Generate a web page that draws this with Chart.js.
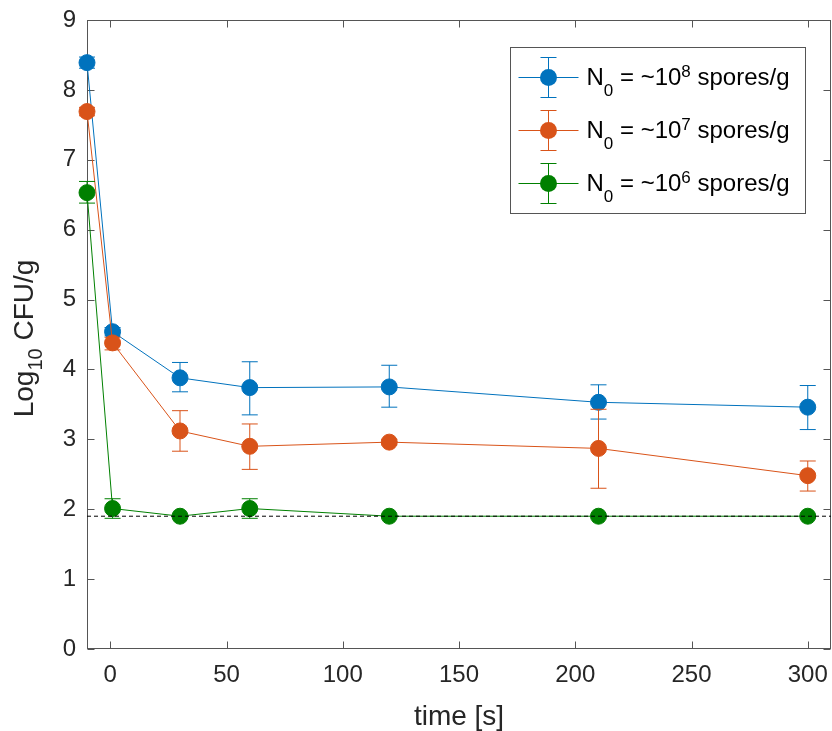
<!DOCTYPE html>
<html>
<head>
<meta charset="utf-8">
<script src="https://cdn.jsdelivr.net/npm/chart.js@4.4.0/dist/chart.umd.min.js"></script>
<style>
  html, body { margin: 0; padding: 0; background: #fff; overflow: hidden; }
  canvas { display: block; }
</style>
</head>
<body>
<canvas id="chart" width="832" height="731"></canvas>
<script>
// sampling times (s)
const timeS = [-10, 1, 30, 60, 120, 210, 300];

// log10 CFU/g per starting load, with upper / lower error limits
const n8Mean = [8.39, 4.54, 3.88, 3.74, 3.75, 3.53, 3.46];
const n8Hi   = [8.47, 4.60, 4.10, 4.11, 4.06, 3.78, 3.77];
const n8Lo   = [8.31, 4.48, 3.68, 3.35, 3.46, 3.29, 3.14];

const n7Mean = [7.69, 4.38, 3.12, 2.90, 2.96, 2.87, 2.48];
const n7Hi   = [7.75, 4.46, 3.41, 3.22, 3.00, 3.43, 2.69];
const n7Lo   = [7.63, 4.28, 2.83, 2.57, 2.92, 2.30, 2.26];

const n6Mean = [6.53, 2.01, 1.90, 2.01, 1.90, 1.90, 1.90];
const n6Hi   = [6.69, 2.15, 1.90, 2.15, 1.90, 1.90, 1.90];
const n6Lo   = [6.38, 1.87, 1.90, 1.87, 1.90, 1.90, 1.90];

// detection limit, drawn across the whole x range
const limitX = [-10, 310];
const limitY = 1.90;

const xTicks = [0, 50, 100, 150, 200, 250, 300];
const yTicks = [0, 1, 2, 3, 4, 5, 6, 7, 8, 9];
const legendExp = ['8', '7', '6'];

const FONT = '"Liberation Sans", Arial, Helvetica, sans-serif';
const AXIS = '#262626';
const BOX = '#555555';

function pts(xs, ys) {
  return xs.map((x, i) => ({ x: x, y: ys[i] }));
}

function series(label, mean, hi, lo, color, order) {
  return {
    label: label,
    data: pts(timeS, mean),
    errHi: hi,
    errLo: lo,
    borderColor: color,
    backgroundColor: color,
    borderWidth: 1,
    pointRadius: 8,
    pointBorderWidth: 1,
    pointBorderColor: color,
    pointBackgroundColor: color,
    showLine: true,
    tension: 0,
    clip: false,
    order: order
  };
}

// draws rich text (sub/superscripts) left to right from x on baseline y
function drawRich(ctx, parts, x, y, size) {
  parts.forEach(p => {
    const small = p.sub || p.sup;
    const s = small ? Math.round(size * 0.7) : size;
    ctx.font = s + 'px ' + FONT;
    const dy = p.sub ? p.sub : (p.sup ? -p.sup : 0);
    ctx.fillText(p.t, x, y + dy);
    x += ctx.measureText(p.t).width;
  });
  return x;
}

function richWidth(ctx, parts, size) {
  let w = 0;
  parts.forEach(p => {
    const s = (p.sub || p.sup) ? Math.round(size * 0.7) : size;
    ctx.font = s + 'px ' + FONT;
    w += ctx.measureText(p.t).width;
  });
  return w;
}

const CAP = 8;

function drawErrorBar(ctx, px, top, bot, cap) {
  ctx.beginPath();
  ctx.moveTo(px, top); ctx.lineTo(px, bot);
  ctx.moveTo(px - cap, top); ctx.lineTo(px + cap, top);
  ctx.moveTo(px - cap, bot); ctx.lineTo(px + cap, bot);
  ctx.stroke();
}

const errorBars = {
  id: 'errorBars',
  beforeDatasetDraw(chart, args) {
    const ds = chart.data.datasets[args.index];
    if (!ds.errHi) return;
    const { ctx, scales: { x, y } } = chart;
    ctx.save();
    ctx.strokeStyle = ds.borderColor;
    ctx.lineWidth = 1;
    ds.data.forEach((p, i) => {
      const px = x.getPixelForValue(p.x);
      drawErrorBar(ctx, px, y.getPixelForValue(ds.errHi[i]), y.getPixelForValue(ds.errLo[i]), CAP);
    });
    ctx.restore();
  }
};

// box around the axes with inward ticks on all four sides, x tick labels, y title
const axesBox = {
  id: 'axesBox',
  beforeDatasetsDraw(chart) {
    const { ctx, chartArea: a, scales: { x, y } } = chart;
    const L = Math.round(a.left) + 0.5, R = Math.round(a.right) - 0.5;
    const T = Math.round(a.top) + 0.5, B = Math.round(a.bottom) - 0.5;
    const tl = 7;
    ctx.save();
    ctx.strokeStyle = BOX;
    ctx.lineWidth = 1;
    ctx.strokeRect(L, T, R - L, B - T);
    ctx.beginPath();
    xTicks.forEach(v => {
      const px = Math.round(x.getPixelForValue(v)) + 0.5;
      ctx.moveTo(px, B); ctx.lineTo(px, B - tl);
      ctx.moveTo(px, T); ctx.lineTo(px, T + tl);
    });
    yTicks.forEach(v => {
      const py = Math.round(y.getPixelForValue(v)) + 0.5;
      ctx.moveTo(L, py); ctx.lineTo(L + tl, py);
      ctx.moveTo(R, py); ctx.lineTo(R - tl, py);
    });
    ctx.stroke();

    // x tick labels (drawn here so the last label may sit past the box edge)
    ctx.fillStyle = AXIS;
    ctx.font = '24px ' + FONT;
    ctx.textAlign = 'center';
    ctx.textBaseline = 'middle';
    xTicks.forEach(v => {
      ctx.fillText(String(v), x.getPixelForValue(v), a.bottom + 26);
    });

    // y title: Log10 CFU/g
    const parts = [{ t: 'Log' }, { t: '10', sub: 9 }, { t: ' CFU/g' }];
    const size = 28;
    const w = richWidth(ctx, parts, size);
    ctx.translate(33, (a.top + a.bottom) / 2 + 4);
    ctx.rotate(-Math.PI / 2);
    ctx.textBaseline = 'alphabetic';
    ctx.textAlign = 'left';
    drawRich(ctx, parts, -w / 2, 0, size);
    ctx.restore();
  }
};

const legendBox = {
  id: 'legendBox',
  afterDraw(chart) {
    const { ctx, chartArea: a } = chart;
    const w = 295, h = 166;
    const bx = Math.round(a.right - 26 - w) + 0.5;
    const by = Math.round(a.top + 27) + 0.5;
    ctx.save();
    ctx.fillStyle = '#fff';
    ctx.fillRect(bx, by, w, h);
    ctx.strokeStyle = BOX;
    ctx.lineWidth = 1;
    ctx.strokeRect(bx, by, w, h);

    const rows = chart.data.datasets.filter(d => d.errHi)
      .sort((p, q) => q.order - p.order);
    rows.forEach((ds, i) => {
      const cy = by + 30 + i * 53;
      const mx = bx + 38;
      ctx.strokeStyle = ds.borderColor;
      ctx.lineWidth = 1;
      ctx.beginPath();
      ctx.moveTo(bx + 8, cy); ctx.lineTo(bx + 68, cy);
      ctx.stroke();
      drawErrorBar(ctx, mx, cy - 20, cy + 20, CAP);
      ctx.fillStyle = ds.backgroundColor;
      ctx.beginPath();
      ctx.arc(mx, cy, 8.5, 0, Math.PI * 2);
      ctx.fill();

      ctx.fillStyle = '#000';
      ctx.textBaseline = 'alphabetic';
      ctx.textAlign = 'left';
      drawRich(ctx, [
        { t: 'N' }, { t: '0', sub: 11 }, { t: ' = ~10' },
        { t: legendExp[i], sup: 8 }, { t: ' spores/g' }
      ], bx + 76, cy + 7, 24);
    });
    ctx.restore();
  }
};

new Chart(document.getElementById('chart'), {
  type: 'scatter',
  data: {
    datasets: [
      series('N0 = ~10^8 spores/g', n8Mean, n8Hi, n8Lo, '#0072BD', 3),
      series('N0 = ~10^7 spores/g', n7Mean, n7Hi, n7Lo, '#D95319', 2),
      series('N0 = ~10^6 spores/g', n6Mean, n6Hi, n6Lo, '#008000', 1),
      {
        label: 'limit',
        data: limitX.map(x => ({ x: x, y: limitY })),
        showLine: true,
        borderColor: '#000',
        borderWidth: 1,
        borderDash: [4, 3],
        pointRadius: 0,
        clip: false,
        order: 0
      }
    ]
  },
  options: {
    responsive: false,
    devicePixelRatio: 1,
    animation: false,
    events: [],
    layout: {
      autoPadding: false,
      padding: { top: 20, right: 1, bottom: 0, left: 0 }
    },
    plugins: {
      legend: { display: false },
      tooltip: { enabled: false }
    },
    scales: {
      x: {
        type: 'linear',
        min: -10,
        max: 310,
        grid: { display: false, drawTicks: false },
        border: { display: false },
        afterBuildTicks: s => { s.ticks = xTicks.map(v => ({ value: v })); },
        afterFit: s => { s.height = 82; },
        ticks: { display: false },
        title: {
          display: true,
          text: 'time [s]',
          color: AXIS,
          padding: { top: 0, bottom: -3 },
          font: { family: FONT, size: 28 }
        }
      },
      y: {
        type: 'linear',
        min: 0,
        max: 9,
        grid: { display: false, drawTicks: false },
        border: { display: false },
        afterBuildTicks: s => { s.ticks = yTicks.map(v => ({ value: v })); },
        afterFit: s => { s.width = 87; s.paddingTop = 0; s.paddingBottom = 0; },
        ticks: {
          padding: 11,
          color: AXIS,
          font: { family: FONT, size: 24 }
        }
      }
    }
  },
  plugins: [errorBars, axesBox, legendBox]
});
</script>
</body>
</html>
